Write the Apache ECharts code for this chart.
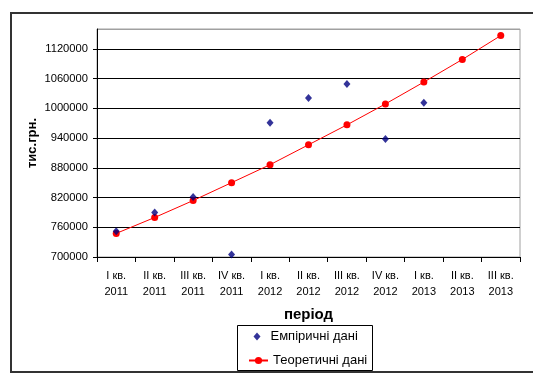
<!DOCTYPE html>
<html>
<head>
<meta charset="utf-8">
<script src="https://cdn.jsdelivr.net/npm/echarts@6/dist/echarts.min.js"></script>
<style>
  html, body { margin: 0; padding: 0; background: #fff; }
  #chart { width: 533px; height: 376px; }
</style>
</head>
<body>
<div id="chart"></div>
<script>
// Quarters (two-line labels: quarter / year)
const periods = [
  'I кв.\n2011', 'II кв.\n2011', 'III кв.\n2011', 'IV кв.\n2011',
  'I кв.\n2012', 'II кв.\n2012', 'III кв.\n2012', 'IV кв.\n2012',
  'I кв.\n2013', 'II кв.\n2013', 'III кв.\n2013'
];

// Observed values, тис. грн. (no data for the last two quarters)
const empirical = [752000, 790000, 821000, 705000, 971000, 1021000, 1049000, 938000, 1011000, null, null];

// Trend values, тис. грн.
const theoretical = [747600, 779700, 813900, 850000, 886200, 926400, 966600, 1008800, 1053000, 1098500, 1146700];

// Value axis range
const yMin = 700000;
const yMax = 1160000;
const yStep = 60000;

const font = 'Liberation Sans, Arial, sans-serif';
const legendText = { fontFamily: font, fontSize: 13, color: '#000' };

const chart = echarts.init(document.getElementById('chart'), null, { renderer: 'canvas' });

chart.setOption({
  animation: false,
  backgroundColor: '#fff',
  textStyle: { fontFamily: font, color: '#000' },
  graphic: [
    {
      // outer chart frame
      type: 'rect',
      shape: { x: 11, y: 13, width: 540, height: 359 },
      style: { fill: 'none', stroke: '#333', lineWidth: 2 },
      silent: true,
      z: -1
    },
    {
      // legend frame
      type: 'rect',
      shape: { x: 237.5, y: 325.5, width: 135, height: 45 },
      style: { fill: '#fff', stroke: '#000', lineWidth: 1 },
      silent: true,
      z: 0
    }
  ],
  grid: {
    left: 97, top: 29, width: 423, height: 228,
    show: true, borderColor: '#a0a0a0', borderWidth: 1, backgroundColor: '#fff'
  },
  legend: [
    {
      left: 253.5, top: 330,
      padding: 0,
      itemWidth: 7, itemHeight: 8,
      icon: 'diamond',
      textStyle: Object.assign({ padding: [0, 0, 0, 5] }, legendText),
      data: ['Емпіричні дані'],
      z: 5
    },
    {
      left: 248, top: 354,
      padding: 0,
      itemWidth: 19, itemHeight: 9,
      textStyle: legendText,
      data: ['Теоретичні дані'],
      z: 5
    }
  ],
  xAxis: {
    type: 'category',
    data: periods,
    boundaryGap: true,
    name: 'період',
    nameLocation: 'middle',
    nameGap: 50,
    nameTextStyle: { fontFamily: font, fontSize: 15, fontWeight: 'bold', color: '#000' },
    axisLine: { lineStyle: { color: '#000', width: 1 } },
    axisTick: { show: true, length: 5, lineStyle: { color: '#000' }, alignWithLabel: false },
    axisLabel: {
      interval: 0, margin: 11, fontSize: 11, lineHeight: 16,
      color: '#000', fontFamily: font, align: 'center'
    },
    splitLine: { show: false }
  },
  yAxis: {
    type: 'value',
    min: yMin, max: yMax, interval: yStep,
    name: 'тис.грн.',
    nameLocation: 'middle',
    nameGap: 58,
    nameMoveOverlap: false,
    nameRotate: 90,
    nameTextStyle: { fontFamily: font, fontSize: 13, fontWeight: 'bold', color: '#000' },
    axisLine: { show: true, lineStyle: { color: '#000', width: 1 } },
    axisTick: { show: true, length: 4, lineStyle: { color: '#000' } },
    axisLabel: {
      margin: 9, fontSize: 11.2, color: '#000', fontFamily: font,
      showMaxLabel: false,
      formatter: v => String(v)
    },
    splitLine: {
      show: true,
      lineStyle: {
        width: 1,
        color: ['#000', '#000', '#000', '#000', '#000', '#000', '#000', '#000', '#a0a0a0']
      }
    }
  },
  series: [
    {
      name: 'Емпіричні дані',
      type: 'scatter',
      data: empirical,
      symbol: 'diamond',
      symbolSize: [7, 8],
      itemStyle: { color: '#000080' },
      z: 3
    },
    {
      name: 'Теоретичні дані',
      type: 'line',
      data: theoretical,
      symbol: 'circle',
      symbolSize: 7,
      showSymbol: true,
      lineStyle: { color: '#ff0000', width: 1 },
      itemStyle: { color: '#ff0000', borderWidth: 0 },
      z: 2
    }
  ]
});
</script>
</body>
</html>
